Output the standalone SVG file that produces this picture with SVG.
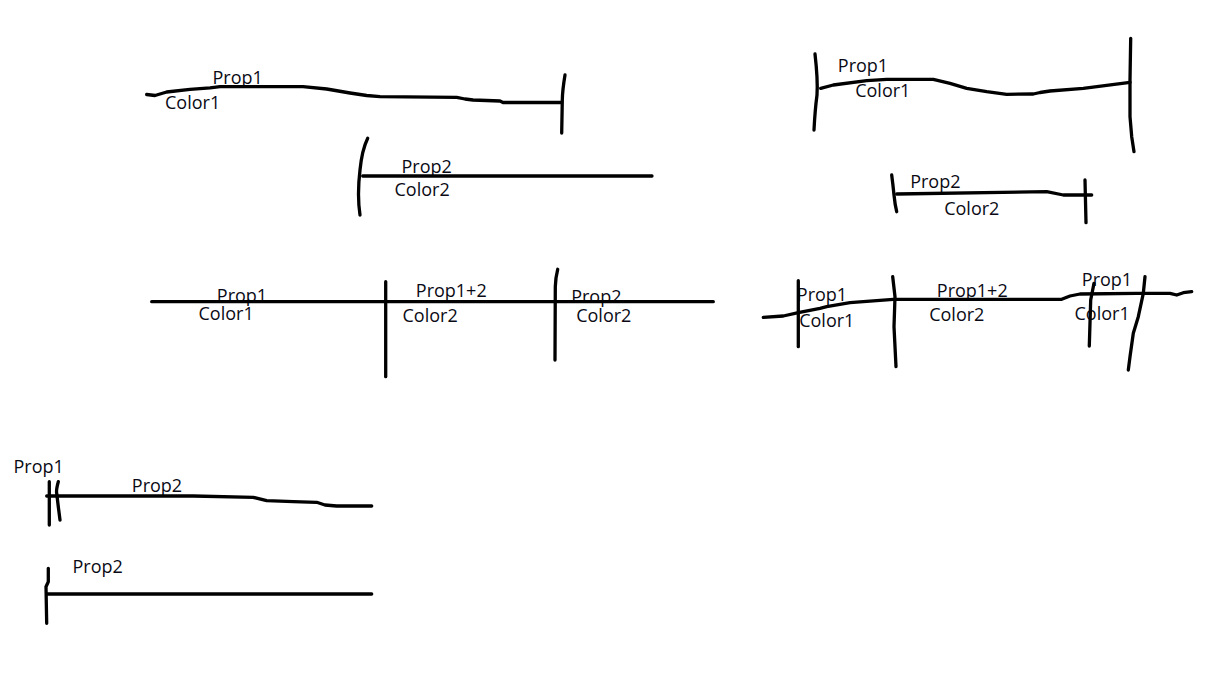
<svg xmlns="http://www.w3.org/2000/svg" width="1220" height="684" viewBox="0 0 1220 684">
<style>
  .t { font-family: "Open Sans", "Liberation Sans", sans-serif; font-size: 18px; fill: #0a0a14; }
  .s { fill: none; stroke: #000; stroke-width: 3.3; stroke-linecap: round; stroke-linejoin: round; }
</style>
<rect x="0" y="0" width="1220" height="684" fill="#fff"/>

<g id="sketch-top-left">
  <text class="t" x="212.5" y="84">Prop1</text>
  <text class="t" x="165" y="109">Color1</text>
  <path class="s" d="M146.7,94.5 L155,95.5 L166.7,92 L190,89.3 L210,87.8 L220,86.7 L303,86.7 L326.7,89 L350,93 L366.7,95.5 L380,96.7 L456.7,97.3 L465,99 L473,100 L500,101 L503,102.5 L561.7,102.5"/>
  <path class="s" d="M565,75 Q562.5,90 562.3,100 L561.7,133"/>
</g>

<g id="sketch-top-left-2">
  <text class="t" x="401.5" y="173.3">Prop2</text>
  <text class="t" x="394.5" y="196">Color2</text>
  <path class="s" d="M367.7,138.3 Q362,150 360,170 Q357,195 360,215"/>
  <path class="s" d="M362.7,176 L652,176"/>
</g>

<g id="sketch-top-right">
  <text class="t" x="837.8" y="72">Prop1</text>
  <text class="t" x="855.2" y="97.3">Color1</text>
  <path class="s" d="M815,54 Q818,80 817,95 Q815,110 814,130"/>
  <path class="s" d="M820.7,88.3 L833.3,85 L866.7,80.7 L886.7,79.3 L933.3,79.3 L950,83.3 L966.7,88.3 L986.7,91.7 L1006.7,94.3 L1033.3,94 L1040,92.5 L1050,91 L1083.3,88.3 L1130,82.3"/>
  <path class="s" d="M1130.7,38.3 L1130,80 L1130,116.7 L1131.7,136.7 L1134,151.7"/>
</g>

<g id="sketch-top-right-2">
  <text class="t" x="910.2" y="188.3">Prop2</text>
  <text class="t" x="944.2" y="215">Color2</text>
  <path class="s" d="M891.7,175 Q893,185 894,195 Q895,205 896.7,211.7"/>
  <path class="s" d="M896.7,194 L1046.7,191.7 L1063.3,195 L1091.7,195"/>
  <path class="s" d="M1085,180 L1086,222.7"/>
</g>

<g id="sketch-middle-left">
  <text class="t" x="216.8" y="302">Prop1</text>
  <text class="t" x="198.5" y="320">Color1</text>
  <text class="t" x="415.8" y="296.7">Prop1+2</text>
  <text class="t" x="402.5" y="321.7">Color2</text>
  <text class="t" x="571.2" y="302.5">Prop2</text>
  <text class="t" x="576.2" y="321.7">Color2</text>
  <path class="s" d="M151.7,301.7 L713.3,301.7"/>
  <path class="s" d="M385.7,281.7 L385.7,376.7"/>
  <path class="s" d="M557.7,269.3 Q555.5,278 555.3,286.7 L555,360"/>
</g>

<g id="sketch-middle-right">
  <text class="t" x="796.8" y="300.7">Prop1</text>
  <text class="t" x="799.2" y="326.7">Color1</text>
  <text class="t" x="936.8" y="296.7">Prop1+2</text>
  <text class="t" x="929.2" y="320.7">Color2</text>
  <text class="t" x="1081.8" y="286">Prop1</text>
  <text class="t" x="1074.5" y="320">Color1</text>
  <path class="s" d="M763.3,317.3 L783.3,316 L798.3,312.7 L820,308.3 L826.7,306.7 L850,302.7 L893.3,299.3 L1061.7,299.3 L1070,296 L1080,294 L1136.7,293.3 L1170,293.3 L1176.7,295 L1183.3,292.7 L1191.7,291.7"/>
  <path class="s" d="M798.3,280.7 L798.3,346.7"/>
  <path class="s" d="M892.7,276.7 L895,296.7 L894,326.7 L896,366.7"/>
  <path class="s" d="M1094,283.3 L1090.7,300 L1089.3,346"/>
  <path class="s" d="M1145,276.7 L1143.3,293.3 L1138.3,316.7 L1133.3,333.3 L1130,356.7 L1128.3,370"/>
</g>

<g id="sketch-bottom-1">
  <text class="t" x="13.5" y="472.7">Prop1</text>
  <text class="t" x="131.8" y="491.7">Prop2</text>
  <path class="s" d="M49.3,481.7 L49.3,525"/>
  <path class="s" d="M58.3,481.7 Q56,490 56.7,493.3 Q57.5,500 58.3,506.7 L60,520"/>
  <path class="s" d="M46.7,496 L193.3,496 L253.3,497.3 L266.7,500.7 L293.3,501.7 L316.7,502.3 L325,505 L336.7,506 L371.7,506"/>
</g>

<g id="sketch-bottom-2">
  <text class="t" x="72.5" y="572.7">Prop2</text>
  <path class="s" d="M48.3,568.3 L48.3,581.7 L46,586.7 L46.7,623.3"/>
  <path class="s" d="M46.7,594 L371.7,594"/>
</g>
</svg>
